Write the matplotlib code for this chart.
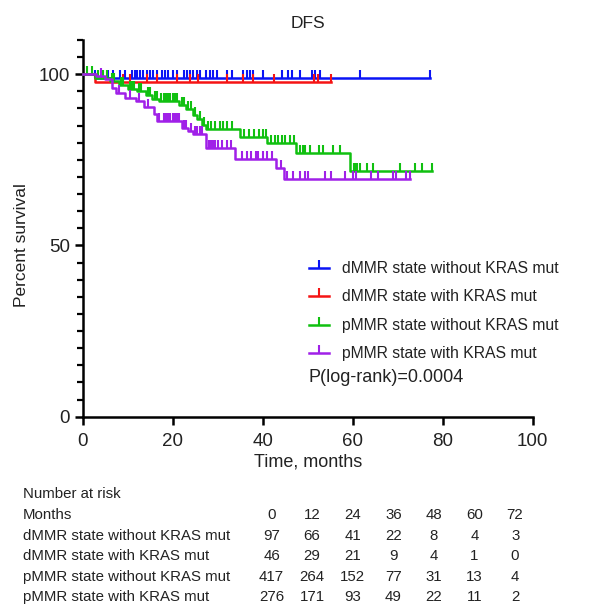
import numpy as np
import matplotlib
matplotlib.use("Agg")
import matplotlib.pyplot as plt
from matplotlib.lines import Line2D
from matplotlib.ticker import MultipleLocator

plt.rcParams['font.family'] = ['Liberation Sans', 'DejaVu Sans']

# ---------------- data ----------------
group_names = ["dMMR state without KRAS mut", "dMMR state with KRAS mut",
               "pMMR state without KRAS mut", "pMMR state with KRAS mut"]
group_colors = ["#0A14F5", "#F51414", "#10C010", "#A020E8"]

# step change points (months) and survival (%) after each point
blue_t = [0, 2.7]
blue_s = [100, 99.0]
blue_end = 77.2
blue_cens = [2.8, 4.3, 5.7, 6.8, 8.3, 9.4, 10.9, 11.6, 12.0, 12.7, 13.5, 14.2, 15.0,
             15.7, 16.4, 17.6, 18.3, 19.0, 20.1, 20.9, 22.4, 23.1, 23.8, 24.6, 25.3,
             26.0, 27.5, 28.3, 29.0, 29.8, 32.0, 33.1, 35.7, 36.4, 37.2, 37.9, 40.1,
             44.2, 45.7, 46.4, 48.3, 50.9, 51.6, 52.8, 61.6, 77.2]

red_t = [0, 2.7]
red_s = [100, 97.8]
red_end = 55.1
red_cens = [9.0, 10.5, 14.2, 16.4, 20.9, 23.8, 25.7, 32.0, 35.7, 37.9, 42.4,
            51.3, 52.2, 55.1]

green_t = [0, 2.8, 6.0, 8.0, 10.0, 12.0, 14.0, 15.5, 17.0, 21.5, 23.0, 24.5,
           25.5, 26.5, 27.5, 35.0, 41.0, 47.5, 59.4]
green_s = [100, 98.8, 98.0, 97.0, 95.8, 95.0, 93.8, 92.8, 92.2, 91.0, 89.8, 88.0,
           86.8, 85.2, 84.0, 81.8, 79.8, 77.0, 71.7]
green_end = 77.7
green_cens = [1.0, 2.0, 3.5, 4.5, 5.5, 6.5, 7.0, 8.5, 9.0, 10.5, 11.0, 11.5, 12.5,
              13.0, 14.5, 15.0, 16.0, 16.5, 17.5, 18.0, 18.5, 19.0, 19.5, 20.0, 20.5,
              21.0, 22.0, 22.5, 23.5, 24.0, 25.0, 26.0, 27.0, 27.9, 28.6, 29.4, 30.5,
              31.2, 32.0, 33.1, 35.9, 37.0, 38.1, 39.2, 40.0, 40.8, 41.9, 42.7, 43.4,
              44.2, 44.9, 46.0, 47.0, 48.3, 49.0, 49.5, 50.5, 52.4, 53.5, 55.7, 57.2,
              60.2, 60.6, 61.0, 61.6, 63.1, 64.6, 70.5, 73.8, 75.3, 77.7]

purple_t = [0, 3.0, 5.0, 6.4, 7.3, 9.5, 11.8, 13.7, 15.8, 16.4, 22.0, 23.3, 24.6,
            27.5, 33.8, 43.0, 44.7]
purple_s = [100, 99.5, 98.5, 96.0, 94.5, 93.2, 92.2, 90.3, 88.5, 86.4, 84.2, 83.3,
            82.5, 78.4, 75.2, 72.5, 69.4]
purple_end = 72.7
purple_cens = [4.0, 8.0, 10.5, 12.5, 14.5, 17.0, 18.0, 18.5, 19.0, 19.5, 20.0, 20.5,
               21.0, 21.5, 22.5, 23.0, 24.0, 25.0, 25.5, 26.0, 26.5, 28.0, 28.5, 29.0,
               29.5, 30.0, 31.0, 32.0, 33.0, 35.5, 36.5, 37.5, 38.5, 39.0, 40.0, 41.0,
               42.0, 44.0, 45.5, 46.8, 48.3, 49.4, 50.1, 53.8, 55.2, 58.2, 60.1, 60.8,
               64.1, 65.6, 68.9, 69.7, 71.9, 72.7]

risk_months = [0, 12, 24, 36, 48, 60, 72]
risk_blue = [97, 66, 41, 22, 8, 4, 3]
risk_red = [46, 29, 21, 9, 4, 1, 0]
risk_green = [417, 264, 152, 77, 31, 13, 4]
risk_purple = [276, 171, 93, 49, 22, 11, 2]

p_text = "P(log-rank)=0.0004"

# ---------------- figure ----------------
W, H = 590, 606
fig = plt.figure(figsize=(W / 100, H / 100), dpi=100)
ax_left, ax_right, ax_bottom, ax_top = 82.7, 532.7, 416.7, 40.0
ax = fig.add_axes([ax_left / W, 1 - ax_bottom / H, (ax_right - ax_left) / W,
                   (ax_bottom - ax_top) / H])

tick_marker = [(0, 0), (0, 1)]
LW, MS, MEW = 1.8, 12, 1.5

series = [
    (blue_t, blue_s, blue_end, blue_cens),
    (red_t, red_s, red_end, red_cens),
    (green_t, green_s, green_end, green_cens),
    (purple_t, purple_s, purple_end, purple_cens),
]

for (t, s, end, cens), color in zip(series, group_colors):
    tt = np.array(list(t) + [end])
    ss = np.array(list(s) + [s[-1]])
    ax.step(tt, ss, where='post', color=color, lw=LW, clip_on=False, zorder=3)
    c = np.array(cens)
    idx = np.searchsorted(np.array(t), c, side='right') - 1
    cy = np.array(s)[idx]
    ax.plot(c, cy, linestyle='none', marker=tick_marker, ms=MS, mew=MEW,
            color=color, clip_on=False, zorder=3)

ax.set_xlim(0, 100)
ax.set_ylim(0, 110)
ax.set_xticks([0, 20, 40, 60, 80, 100])
ax.set_yticks([0, 50, 100])
ax.yaxis.set_minor_locator(MultipleLocator(5))
for side in ['top', 'right']:
    ax.spines[side].set_visible(False)
for side in ['left', 'bottom']:
    ax.spines[side].set_linewidth(1.8)
ax.tick_params(axis='both', which='major', length=6, width=1.8, labelsize=13.5,
               direction='out', color='black', labelcolor='#222222')
ax.tick_params(axis='y', which='minor', length=4, width=1.6)
ax.tick_params(axis='x', which='major', pad=6)
ax.tick_params(axis='y', which='major', pad=3)

ax.set_xlabel("Time, months", fontsize=13, color='#222222', labelpad=2)
ax.set_ylabel("Percent survival", fontsize=12.5, color='#222222')
ax.yaxis.set_label_coords(-0.12, 50 / 110)
ax.set_title("DFS", fontsize=12.5, color='#222222', pad=9)

# legend
handles = [Line2D([0], [0], color=c, lw=LW, marker=tick_marker, ms=MS, mew=MEW)
           for c in group_colors]
leg = ax.legend(handles, group_names, loc='upper left',
                bbox_to_anchor=(309 / W, 1 - 261 / H), bbox_transform=fig.transFigure,
                frameon=False, fontsize=11.3, handlelength=1.25, handletextpad=0.85,
                labelspacing=0.86, borderpad=0, borderaxespad=0, numpoints=1)
for txt in leg.get_texts():
    txt.set_color('#222222')

fig.text(308 / W, 1 - 378 / H, p_text, fontsize=13, color='#222222',
         ha='left', va='center')

# number at risk table
tfs = 10.8
fig.text(23 / W, 1 - 494 / H, "Number at risk", fontsize=tfs, color='#222222',
         ha='left', va='center')
fig.text(23 / W, 1 - 515 / H, "Months", fontsize=tfs, color='#222222',
         ha='left', va='center')
col_x0, col_dx = 271.5, 40.6
for i, m in enumerate(risk_months):
    fig.text((col_x0 + i * col_dx) / W, 1 - 515 / H, str(m), fontsize=tfs,
             color='#222222', ha='center', va='center')
row_y = [536, 556, 577, 597]
for name, vals, y in zip(group_names, [risk_blue, risk_red, risk_green, risk_purple], row_y):
    fig.text(23 / W, 1 - y / H, name, fontsize=tfs, color='#222222',
             ha='left', va='center')
    for i, v in enumerate(vals):
        fig.text((col_x0 + i * col_dx) / W, 1 - y / H, str(v), fontsize=tfs,
                 color='#222222', ha='center', va='center')

fig.savefig("out.png", dpi=100)
